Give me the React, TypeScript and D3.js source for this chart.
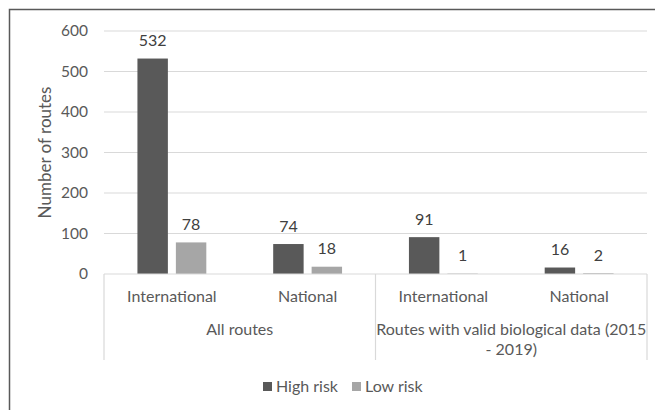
import React, { useEffect, useRef } from 'react';
import * as d3 from 'd3';

const categories = ['International', 'National', 'International', 'National'];
const groupLabels = [['All routes'], ['Routes with valid biological data (2015', '- 2019)']];
const seriesNames = ['High risk', 'Low risk'];
const highRisk = [532, 74, 91, 16];
const lowRisk = [78, 18, 1, 2];
const yTicks = [0, 100, 200, 300, 400, 500, 600];

const colors = ['#595959', '#a6a6a6'];
const font = 'Lato, "Noto Sans", sans-serif';

const App: React.FC = () => {
  const ref = useRef<SVGSVGElement | null>(null);

  useEffect(() => {
    const width = 655;
    const height = 410;
    const margin = { top: 31, left: 104, right: 8, bottom: 136 };
    const svg = d3.select(ref.current);
    svg.selectAll('*').remove();

    svg.append('rect').attr('width', width).attr('height', height).attr('fill', '#fff');

    // outer chart border (runs off the right/bottom edge)
    svg.append('rect')
      .attr('x', 9.5).attr('y', 9.5)
      .attr('width', 700).attr('height', 450)
      .attr('fill', 'none')
      .attr('stroke', '#595959')
      .attr('stroke-width', 1.5);

    const x = d3.scaleBand<number>()
      .domain(d3.range(categories.length))
      .range([margin.left, width - margin.right]);
    const inner = d3.scaleBand<string>()
      .domain(seriesNames)
      .range([0, x.bandwidth()])
      .paddingInner(0.208)
      .paddingOuter(0.87);
    const y = d3.scaleLinear()
      .domain([0, 600])
      .range([height - margin.bottom, margin.top]);

    const x0 = margin.left;
    const x1 = width - margin.right;
    const y0 = y(0);

    // gridlines
    svg.append('g')
      .selectAll('line')
      .data(yTicks.filter(t => t > 0))
      .enter()
      .append('line')
      .attr('x1', x0).attr('x2', x1)
      .attr('y1', d => y(d)).attr('y2', d => y(d))
      .attr('stroke', '#d9d9d9')
      .attr('stroke-width', 1.2);

    // y tick labels
    svg.append('g')
      .selectAll('text')
      .data(yTicks)
      .enter()
      .append('text')
      .attr('x', 88)
      .attr('y', d => y(d))
      .attr('dy', '0.35em')
      .attr('text-anchor', 'end')
      .attr('fill', '#595959')
      .attr('font-family', font)
      .attr('font-size', 15.5)
      .text(d => d);

    // y axis title
    svg.append('text')
      .attr('transform', `translate(45,${(y(0) + y(600)) / 2}) rotate(-90)`)
      .attr('dy', '0.35em')
      .attr('text-anchor', 'middle')
      .attr('fill', '#595959')
      .attr('font-family', font)
      .attr('font-size', 17)
      .text('Number of routes');

    // bars
    const series = [highRisk, lowRisk];
    series.forEach((vals, si) => {
      const g = svg.append('g');
      g.selectAll('rect')
        .data(vals)
        .enter()
        .append('rect')
        .attr('x', (d, i) => (x(i) as number) + (inner(seriesNames[si]) as number))
        .attr('y', d => y(d))
        .attr('width', inner.bandwidth())
        .attr('height', d => y0 - y(d))
        .attr('fill', colors[si]);
      g.selectAll('text')
        .data(vals)
        .enter()
        .append('text')
        .attr('x', (d, i) => (x(i) as number) + (inner(seriesNames[si]) as number) + inner.bandwidth() / 2)
        .attr('y', d => y(d) - 18)
        .attr('dy', '0.35em')
        .attr('text-anchor', 'middle')
        .attr('fill', '#404040')
        .attr('font-family', font)
        .attr('font-size', 16)
        .text(d => d);
    });

    // category axis
    const axisBottom = 360;
    svg.append('line')
      .attr('x1', x0).attr('x2', x1)
      .attr('y1', y0).attr('y2', y0)
      .attr('stroke', '#d9d9d9').attr('stroke-width', 1.2);
    [0, 2, 4].forEach(i => {
      const xx = i === 4 ? x1 : (x(i) as number);
      svg.append('line')
        .attr('x1', xx).attr('x2', xx)
        .attr('y1', y0).attr('y2', axisBottom)
        .attr('stroke', '#d9d9d9').attr('stroke-width', 1.2);
    });

    svg.append('g')
      .selectAll('text')
      .data(categories)
      .enter()
      .append('text')
      .attr('x', (d, i) => (x(i) as number) + x.bandwidth() / 2)
      .attr('y', 296)
      .attr('dy', '0.35em')
      .attr('text-anchor', 'middle')
      .attr('fill', '#595959')
      .attr('font-family', font)
      .attr('font-size', 16)
      .text(d => d);

    groupLabels.forEach((lines, gi) => {
      const cx = (x(gi * 2) as number) + x.bandwidth();
      lines.forEach((line, li) => {
        svg.append('text')
          .attr('x', cx)
          .attr('y', 329 + li * 20)
          .attr('dy', '0.35em')
          .attr('text-anchor', 'middle')
          .attr('fill', '#595959')
          .attr('font-family', font)
          .attr('font-size', 16)
          .text(line);
      });
    });

    // legend
    const legendX = [263, 352];
    seriesNames.forEach((name, si) => {
      svg.append('rect')
        .attr('x', legendX[si]).attr('y', 382)
        .attr('width', 9).attr('height', 9)
        .attr('fill', colors[si]);
      svg.append('text')
        .attr('x', legendX[si] + 13)
        .attr('y', 386)
        .attr('dy', '0.35em')
        .attr('fill', '#595959')
        .attr('font-family', font)
        .attr('font-size', 16)
        .text(name);
    });
  }, []);

  return (
    <svg
      ref={ref}
      width={655}
      height={410}
      style={{ position: 'absolute', left: 0, top: 0, display: 'block' }}
    />
  );
};

export default App;
